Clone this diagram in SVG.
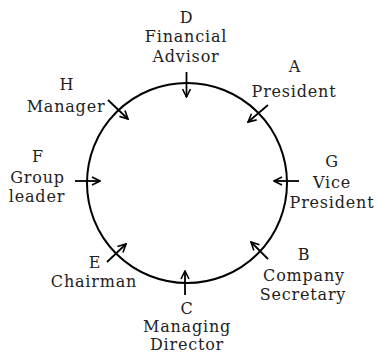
<svg xmlns="http://www.w3.org/2000/svg" width="378" height="354" viewBox="0 0 378 354">
<defs>
<marker id="ah" viewBox="0 0 10 10" refX="9" refY="5" markerWidth="10" markerHeight="10" markerUnits="userSpaceOnUse" orient="auto">
<path d="M1,1 L9,5 L1,9" fill="none" stroke="#000" stroke-width="1.6"/>
</marker>
<style>
text{font-family:"DejaVu Serif","Liberation Serif",serif;font-size:16px;letter-spacing:0.8px;fill:#222;text-anchor:middle}
.arr{stroke:#000;stroke-width:1.8;fill:none;marker-end:url(#ah)}
</style>
</defs>
<rect width="378" height="354" fill="#fff"/>
<g id="circle"><circle cx="187" cy="183" r="100" fill="none" stroke="#000" stroke-width="2"/></g>
<g id="connectors">
<line class="arr" x1="186.5" y1="72" x2="186.5" y2="97"/>
<line class="arr" x1="268" y1="105" x2="248" y2="122"/>
<line class="arr" x1="299" y1="181" x2="274" y2="181"/>
<line class="arr" x1="268" y1="259" x2="251" y2="242"/>
<line class="arr" x1="185" y1="295" x2="185" y2="271"/>
<line class="arr" x1="107" y1="262" x2="126" y2="244"/>
<line class="arr" x1="75" y1="181" x2="100" y2="181"/>
<line class="arr" x1="108" y1="100" x2="128" y2="119"/>
</g>
<g id="D"><text x="186.5" y="23">D</text><text x="186" y="42">Financial</text><text x="186" y="62">Advisor</text></g>
<g id="A"><text x="295" y="72">A</text><text x="294" y="97">President</text></g>
<g id="G"><text x="332" y="167">G</text><text x="332" y="188">Vice</text><text x="332" y="208">President</text></g>
<g id="B"><text x="304" y="260">B</text><text x="304" y="281">Company</text><text x="303" y="300">Secretary</text></g>
<g id="C"><text x="187" y="314">C</text><text x="187" y="332">Managing</text><text x="187" y="350">Director</text></g>
<g id="E"><text x="95" y="268">E</text><text x="94" y="287">Chairman</text></g>
<g id="F"><text x="38" y="162">F</text><text x="37.5" y="183">Group</text><text x="37" y="202">leader</text></g>
<g id="H"><text x="67" y="90">H</text><text x="66" y="112">Manager</text></g>
</svg>
